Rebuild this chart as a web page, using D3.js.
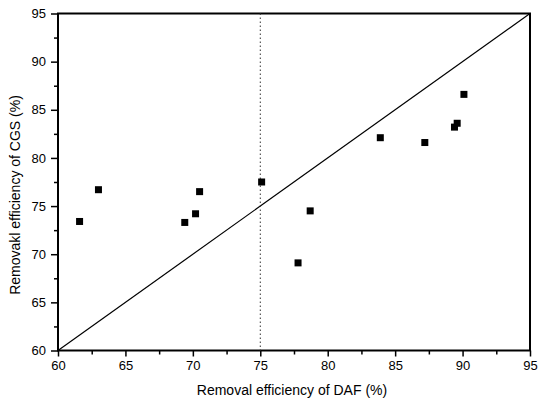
<!DOCTYPE html>
<html><head><meta charset="utf-8">
<script src="https://cdn.jsdelivr.net/npm/d3@7"></script>
<style>body{margin:0;background:#fff}svg{display:block}text{font-family:"Liberation Sans",Arial,sans-serif;fill:#000}</style>
</head><body><svg id="c" width="538" height="403"></svg>
<script>
const dafValues = [61.6, 63.0, 69.4, 70.2, 70.5, 75.1, 77.8, 78.7, 83.9, 87.2, 89.4, 89.6, 90.1];
const cgsValues = [73.4, 76.7, 73.3, 74.2, 76.5, 77.5, 69.1, 74.5, 82.1, 81.6, 83.2, 83.6, 86.6];
const tickValues = [60, 65, 70, 75, 80, 85, 90, 95];
const minorTicks = [62.5, 67.5, 72.5, 77.5, 82.5, 87.5, 92.5];
const refX = 75;
const xTitle = "Removal efficiency of DAF (%)";
const yTitle = "Removakl efficiency of CGS (%)";

const svg = d3.select("#c");
const L = 58, R = 530, T = 13.5, B = 350.5;
const x = d3.scaleLinear().domain([60, 95]).range([L, R]);
const y = d3.scaleLinear().domain([60, 95]).range([B, T]);

// frame
svg.append("rect").attr("x", L).attr("y", T).attr("width", R - L).attr("height", B - T)
  .attr("fill", "none").attr("stroke", "#000").attr("stroke-width", 2);

// axes
const xAx = svg.append("g").attr("transform", `translate(0,${B})`)
  .call(d3.axisBottom(x).tickValues(tickValues).tickSize(6).tickPadding(4).tickFormat(d3.format("d")));
const xMin = svg.append("g").attr("transform", `translate(0,${B})`)
  .call(d3.axisBottom(x).tickValues(minorTicks).tickSize(4).tickFormat(""));
const yAx = svg.append("g").attr("transform", `translate(${L},0)`)
  .call(d3.axisLeft(y).tickValues(tickValues).tickSize(7).tickPadding(5).tickFormat(d3.format("d")));
const yMin = svg.append("g").attr("transform", `translate(${L},0)`)
  .call(d3.axisLeft(y).tickValues(minorTicks).tickSize(4).tickFormat(""));
[xAx, xMin, yAx, yMin].forEach(g => {
  g.select(".domain").remove();
  g.selectAll("line").attr("stroke", "#000").attr("stroke-width", 1.5);
  g.selectAll("text").attr("font-size", 13).style("font-family", '"Liberation Sans",Arial,sans-serif');
});

// diagonal 1:1 line
svg.append("line").attr("x1", x(60)).attr("y1", y(60)).attr("x2", x(95)).attr("y2", y(95))
  .attr("stroke", "#000").attr("stroke-width", 1.2);

// dotted vertical reference
svg.append("line").attr("x1", x(refX)).attr("x2", x(refX)).attr("y1", y(95)).attr("y2", y(60))
  .attr("stroke", "#333").attr("stroke-width", 1).attr("stroke-dasharray", "1.5,2.5");

// points
const s = 7;
svg.append("g").selectAll("rect").data(dafValues.map((d, i) => [d, cgsValues[i]])).join("rect")
  .attr("x", d => x(d[0]) - s / 2).attr("y", d => y(d[1]) - s / 2)
  .attr("width", s).attr("height", s).attr("fill", "#000");

// titles
svg.append("text").attr("x", 292).attr("y", 395).attr("text-anchor", "middle")
  .attr("font-size", 14).text(xTitle);
svg.append("text").attr("transform", "translate(20,195) rotate(-90)").attr("text-anchor", "middle")
  .attr("font-size", 14).text(yTitle);
</script></body></html>
